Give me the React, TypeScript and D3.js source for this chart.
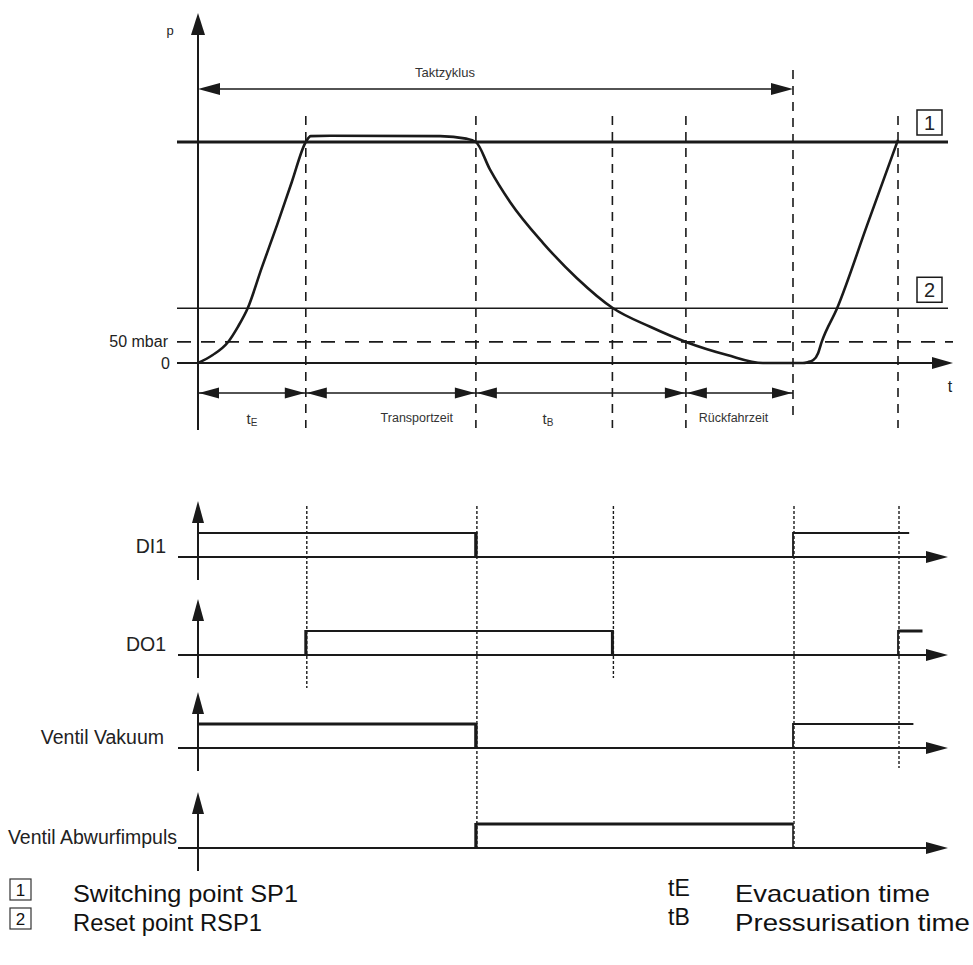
import * as d3 from "d3";
import React, { useEffect, useRef } from "react";

// time axis in % of one cycle (0 = start of evacuation, 100 = next switching point)
const eventTimes = [0, 15.4, 39.7, 59.2, 69.7, 85, 100];
const intervalTimes = [0, 15.4, 39.7, 69.7, 85];
const intervalLabels = ["tE", "Transportzeit", "tB", "Rückfahrzeit"];
const taktzyklus = [0, 85];

// pressure levels (mbar)
const levelSP1 = 525;
const levelRSP1 = 130;
const levelLimit = 50;

// vacuum curve
const curveTime = [0, 2.1, 4.3, 5.7, 7.1, 9.1, 11.3, 13.4, 15.4, 16.1, 18.9, 34.6, 38.3, 39.7, 41.7, 44.6, 49.3, 54.1, 59.3, 64.6, 69.7, 75.6, 80.7, 85, 86.4, 87.1, 87.9, 88.6, 89.1, 91.3, 95.6, 100];
const curvePressure = [0, 19, 50, 86, 130, 226, 328, 430, 525, 539, 540, 539, 533, 525, 460, 382, 285, 202, 130, 86, 50, 19, 0, 0, 0, 2, 7, 24, 50, 130, 328, 530];

// switching signals, on-intervals (an end > 100 runs on into the next cycle)
const signalNames = ["DI1", "DO1", "Ventil Vakuum", "Ventil Abwurfimpuls"];
const di1Pulses = [[0, 39.7], [85, 101.6]];
const do1Pulses = [[15.4, 59.2], [100, 103.5]];
const vakuumPulses = [[0, 39.7], [85, 102.2]];
const abwurfPulses = [[39.7, 85]];

// legend
const legendBoxes = ["1", "2"];
const legendBoxText = ["Switching point SP1", "Reset point RSP1"];
const legendSymbols = ["tE", "tB"];
const legendSymbolText = ["Evacuation time", "Pressurisation time"];

const App = (): JSX.Element => {
	const svgRef = useRef<SVGSVGElement>(null);
	useEffect(() => {
		const svg = d3.select(svgRef.current);
		svg.selectAll("*").remove();

		const ink = "#1a1a1a";
		const font = "'Liberation Sans', Arial, sans-serif";

		const x = d3.scaleLinear().domain([0, 100]).range([198, 898]);
		const y = d3.scaleLinear().domain([0, levelSP1]).range([363, 142]);

		const arrow = (tx: number, ty: number, dir: string, len: number, half: number) => {
			let pts: number[][] = [];
			if (dir === "right") pts = [[tx, ty], [tx - len, ty - half], [tx - len, ty + half]];
			if (dir === "left") pts = [[tx, ty], [tx + len, ty - half], [tx + len, ty + half]];
			if (dir === "up") pts = [[tx, ty], [tx - half, ty + len], [tx + half, ty + len]];
			svg.append("polygon").attr("points", pts.map((p) => p.join(",")).join(" ")).attr("fill", ink);
		};
		const line = (x1: number, y1: number, x2: number, y2: number, w: number, dash?: string) => {
			const l = svg
				.append("line")
				.attr("x1", x1)
				.attr("y1", y1)
				.attr("x2", x2)
				.attr("y2", y2)
				.attr("stroke", ink)
				.attr("stroke-width", w);
			if (dash) l.attr("stroke-dasharray", dash);
			return l;
		};
		const label = (tx: number, ty: number, s: string, size: number, anchor: string, fill = "#222") =>
			svg.append("text")
				.attr("x", tx)
				.attr("y", ty)
				.attr("text-anchor", anchor)
				.attr("dominant-baseline", "central")
				.attr("font-family", font)
				.attr("font-size", size)
				.attr("fill", fill)
				.text(s);

		// ---------- pressure diagram ----------
		line(177, y(levelSP1), 948, y(levelSP1), 3);
		line(177, y(levelRSP1), 948, y(levelRSP1), 1.5);
		line(177, y(levelLimit), 953, y(levelLimit), 1.8, "14 10");
		line(177, y(0), 935, y(0), 2);
		arrow(953, y(0), "right", 21, 6);

		// p axis
		line(x(0), 430, x(0), 30, 2);
		arrow(x(0), 13, "up", 22, 7);

		// event lines
		eventTimes.slice(1).forEach((t) => {
			const isCycleEnd = t === taktzyklus[1];
			line(x(t), isCycleEnd ? 70 : 116, x(t), isCycleEnd ? 415 : 428, 1.6, "9 7");
		});

		// Taktzyklus arrow
		line(x(taktzyklus[0]) + 10, 89, x(taktzyklus[1]) - 10, 89, 1.6);
		arrow(x(taktzyklus[0]), 89, "left", 22, 6);
		arrow(x(taktzyklus[1]), 89, "right", 22, 6);
		label(445, 72, "Taktzyklus", 13, "middle", "#333");

		// vacuum curve
		const pts = curveTime.map((t, i) => [x(t), y(curvePressure[i])] as [number, number]);
		svg.append("path")
			.attr("d", d3.line().curve(d3.curveMonotoneX)(pts))
			.attr("fill", "none")
			.attr("stroke", ink)
			.attr("stroke-width", 2.6);

		// interval arrows
		const labelShift = [0, 26, -33, -6];
		for (let i = 0; i < intervalLabels.length; i++) {
			const a = x(intervalTimes[i]);
			const b = x(intervalTimes[i + 1]);
			line(a, 393, b, 393, 1.6);
			arrow(a + 1, 393, "left", 20, 5.5);
			arrow(b - 1, 393, "right", 20, 5.5);
			const cx = (a + b) / 2 + labelShift[i];
			const lbl = intervalLabels[i];
			const tx = svg
				.append("text")
				.attr("x", cx)
				.attr("y", 418)
				.attr("text-anchor", "middle")
				.attr("dominant-baseline", "central")
				.attr("font-family", font)
				.attr("fill", "#333");
			if (lbl.length === 2) {
				tx.append("tspan").attr("font-size", 15).text(lbl[0]);
				tx.append("tspan").attr("font-size", 10).attr("dy", 4).text(lbl[1]);
			} else {
				tx.attr("font-size", 12.5).text(lbl);
			}
		}

		// axis texts
		label(170, 30, "p", 13, "middle");
		label(168, y(levelLimit), "50 mbar", 16, "end");
		label(170, y(0), "0", 16, "end");
		label(950, 386, "t", 16, "middle");

		// numbered boxes
		[levelSP1, levelRSP1].forEach((lv, i) => {
			const by = y(lv) - (i === 0 ? 32 : 31);
			svg.append("rect")
				.attr("x", 917)
				.attr("y", by)
				.attr("width", 25)
				.attr("height", 25)
				.attr("fill", "none")
				.attr("stroke", ink)
				.attr("stroke-width", 1.5);
			label(929.5, by + 13, legendBoxes[i], 20, "middle");
		});

		// ---------- switching signals ----------
		const rowBase = [557, 655, 748, 848];
		const highW = [1.8, 1.8, 3.2, 3.2];
		const riseW = [3, 3, 3, 3.2];
		const fallW = [3.4, 3, 3.4, 1.6];
		const labelEnd = [166, 166, 164, 177];
		const high = 24;
		const pulses = [di1Pulses, do1Pulses, vakuumPulses, abwurfPulses];

		// dotted guide lines: [time, bottom y]
		const guides: [number, number][] = [
			[eventTimes[1], 688],
			[eventTimes[2], rowBase[3]],
			[eventTimes[3], 678],
			[eventTimes[5], rowBase[3]],
			[eventTimes[6], 768],
		];
		guides.forEach(([t, yb]) => line(x(t) + 1, 506, x(t) + 1, yb, 1.4, "3 2"));

		signalNames.forEach((name, r) => {
			const base = rowBase[r];
			line(178, base, 928, base, 2);
			arrow(948, base, "right", 22, 6);
			line(x(0), base + 23, x(0), base - 40, 2);
			arrow(x(0), base - 56, "up", 22, 6);
			label(labelEnd[r], base - 11, name, 19.5, "end");

			pulses[r].forEach(([t0, t1], k) => {
				const first = k === 0;
				const hw = first ? highW[r] : r === 1 ? 3 : 2;
				line(x(t0), base - high, x(t1), base - high, hw);
				if (t0 > 0) line(x(t0), base + 1, x(t0), base - high - 1, first ? riseW[r] : 1.8);
				if (t1 <= 100) line(x(t1), base + 1, x(t1), base - high - 1, fallW[r]);
			});
		});

		// ---------- legend ----------
		legendBoxes.forEach((b, i) => {
			const cy = 890 + i * 29;
			svg.append("rect")
				.attr("x", 10)
				.attr("y", cy - 11)
				.attr("width", 21)
				.attr("height", 21)
				.attr("fill", "none")
				.attr("stroke", "#333")
				.attr("stroke-width", 1.2);
			label(20.5, cy, b, 17, "middle", "#111");
			label(73, cy + 3, legendBoxText[i], 24, "start", "#111")
				.attr("textLength", i === 0 ? 225 : 189)
				.attr("lengthAdjust", "spacingAndGlyphs");
		});
		legendSymbols.forEach((s, i) => {
			const cy = 888 + i * 29;
			label(668, cy, s, 23, "start", "#111");
			label(735, cy + 5, legendSymbolText[i], 24, "start", "#111")
				.attr("textLength", i === 0 ? 195 : 235)
				.attr("lengthAdjust", "spacingAndGlyphs");
		});

		return () => {
			svg.selectAll("*").remove();
		};
	}, []);

	return (
		<svg
			ref={svgRef}
			width={973}
			height={965}
			style={{ position: "absolute", left: 0, top: 0, background: "#fff" }}
		/>
	);
};

export default App;
